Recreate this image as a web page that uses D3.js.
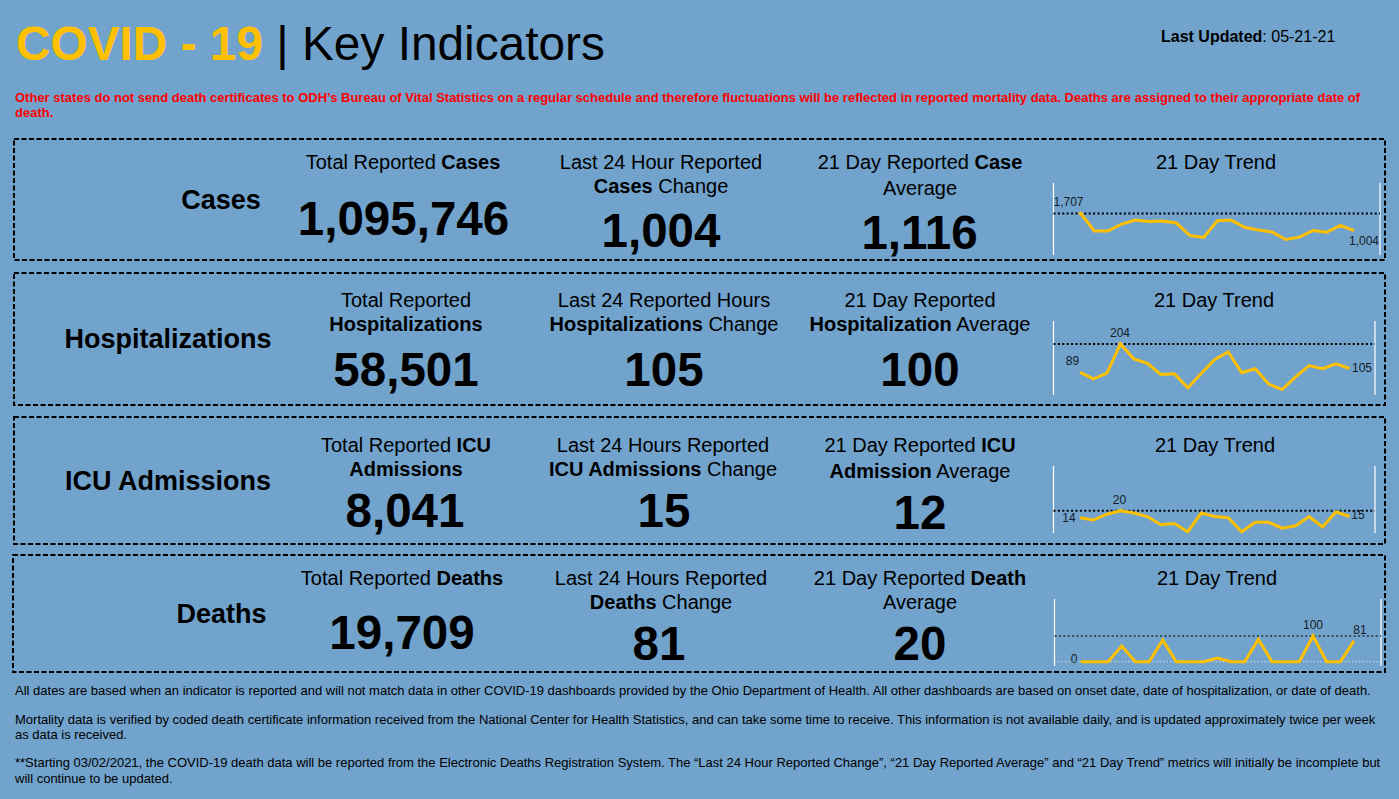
<!DOCTYPE html>
<html>
<head>
<meta charset="UTF-8">
<title>COVID - 19 | Key Indicators</title>
<script src="https://cdn.jsdelivr.net/npm/d3@7"></script>
<style>
* { margin: 0; padding: 0; }
html, body { background: #71a3cc; overflow: hidden; }
svg { display: block; font-family: "Liberation Sans", Arial, sans-serif; }
</style>
</head>
<body>
<svg id="chart" width="1399" height="799"></svg>
<script>
const rowNames = ["Cases", "Hospitalizations", "ICU Admissions", "Deaths"];
const totals = ["1,095,746", "58,501", "8,041", "19,709"];
const changes = ["1,004", "105", "15", "81"];
const averages = ["1,116", "100", "12", "20"];

const totalHeads = [
  ["Total Reported <b>Cases</b>"],
  ["Total Reported", "<b>Hospitalizations</b>"],
  ["Total Reported <b>ICU</b>", "<b>Admissions</b>"],
  ["Total Reported <b>Deaths</b>"]
];
const changeHeads = [
  ["Last 24 Hour Reported", "<b>Cases</b> Change"],
  ["Last 24 Reported Hours", "<b>Hospitalizations</b> Change"],
  ["Last 24 Hours Reported", "<b>ICU Admissions</b> Change"],
  ["Last 24 Hours Reported", "<b>Deaths</b> Change"]
];
const averageHeads = [
  ["21 Day Reported <b>Case</b>", "Average"],
  ["21 Day Reported", "<b>Hospitalization</b> Average"],
  ["21 Day Reported <b>ICU</b>", "<b>Admission</b> Average"],
  ["21 Day Reported <b>Death</b>", "Average"]
];

// 21 day trend values
const casesTrend = [1707, 990, 990, 1274, 1437, 1383, 1396, 1315, 801, 720, 1410, 1437, 1139, 1031, 950, 639, 733, 1004, 936, 1220, 1004];
const hospTrend = [89, 63, 86, 204, 144, 126, 81, 84, 27, 85, 142, 172, 88, 104, 42, 20, 71, 117, 104, 124, 105];
const icuTrend = [14, 12, 17, 20, 18, 15, 8, 9, 2, 18, 15, 14, 2, 10, 10, 5, 7, 15, 6, 19, 15];
const deathsTrend = [0, 0, 0, 61, 0, 0, 84, 0, 0, 0, 14, 0, 0, 87, 0, 0, 0, 100, 0, 0, 81];
const trends = [casesTrend, hospTrend, icuTrend, deathsTrend];

const noteRed = [
  "Other states do not send death certificates to ODH’s Bureau of Vital Statistics on a regular schedule and therefore fluctuations will be reflected in reported mortality data. Deaths are assigned to their appropriate date of",
  "death."
];
const footNotes = [
  "All dates are based when an indicator is reported and will not match data in other COVID-19 dashboards provided by the Ohio Department of Health. All other dashboards are based on onset date, date of hospitalization, or date of death.",
  "Mortality data is verified by coded death certificate information received from the National Center for Health Statistics, and can take some time to receive. This information is not available daily, and is updated approximately twice per week",
  "as data is received.",
  "**Starting 03/02/2021, the COVID-19 death data will be reported from the Electronic Deaths Registration System. The “Last 24 Hour Reported Change”, “21 Day Reported Average” and “21 Day Trend” metrics will initially be incomplete but",
  "will continue to be updated."
];
const footY = [695, 724, 739, 767, 783];

// layout of each row, pixels
const rows = [
  { box: [14, 139, 1385, 260], nameX: 221, nameY: 209, headY: [169, 193], avgHeadY: [169, 195], trendX: 1216,
    cols: [403, 661, 920], valX: [403.5, 661, 919.5], valY: [235, 247, 249],
    spark: { left: 1053.5, right: 1380, top: 183, bottom: 255, x0: 1080.7, x1: 1354, zero: 255, ref: 213.5 },
    labels: [{ t: "1,707", x: 1068.5, y: 206 }, { t: "1,004", x: 1364, y: 245 }] },
  { box: [14, 273, 1385, 405], nameX: 168, nameY: 348, headY: [307, 331], avgHeadY: [307, 331], trendX: 1214,
    cols: [406, 664, 920], valX: [406, 664, 920], valY: [386, 386, 386],
    spark: { left: 1053.5, right: 1375, top: 321, bottom: 395, x0: 1080, x1: 1349.5, zero: 394.5, ref: 344 },
    labels: [{ t: "204", x: 1120, y: 337 }, { t: "89", x: 1072.5, y: 365 }, { t: "105", x: 1362, y: 372 }] },
  { box: [14, 417, 1385, 544], nameX: 168, nameY: 490, headY: [452, 476], avgHeadY: [452, 478], trendX: 1215,
    cols: [406, 663, 920], valX: [405, 664, 920], valY: [527, 527, 529],
    spark: { left: 1053.5, right: 1375, top: 466, bottom: 533, x0: 1080, x1: 1349.5, zero: 534, ref: 510.7 },
    labels: [{ t: "20", x: 1119.5, y: 504 }, { t: "14", x: 1069, y: 522 }, { t: "15", x: 1358, y: 519 }] },
  { box: [13, 555, 1385, 672], nameX: 221.5, nameY: 623, headY: [585, 609], avgHeadY: [585, 609], trendX: 1217,
    cols: [402, 661, 920], valX: [402, 659, 920], valY: [649, 660, 660],
    spark: { left: 1054.5, right: 1381, top: 599, bottom: 666, x0: 1080.7, x1: 1354, zero: 661.7, ref: 636, grey: true },
    labels: [{ t: "100", x: 1313, y: 629 }, { t: "81", x: 1360, y: 634 }, { t: "0", x: 1074, y: 663 }] }
];

const svg = d3.select("#chart");
svg.append("rect").attr("width", 1399).attr("height", 799).attr("fill", "#71a3cc");

// text with <b> runs turned into tspans
function richText(parent, str, x, y, size, anchor) {
  const t = parent.append("text").attr("x", x).attr("y", y)
    .attr("font-size", size).attr("text-anchor", anchor || "middle").attr("fill", "#000");
  str.split(/(<b>.*?<\/b>)/).filter(s => s).forEach(s => {
    const bold = s.startsWith("<b>");
    t.append("tspan").attr("font-weight", bold ? "bold" : "normal").text(s.replace(/<\/?b>/g, ""));
  });
  return t;
}

// title
const title = svg.append("text").attr("x", 16).attr("y", 60).attr("font-size", 47.8);
title.append("tspan").attr("font-weight", "bold").attr("fill", "#ffc000").text("COVID - 19");
title.append("tspan").attr("fill", "#000").text(" | Key Indicators");

richText(svg, "<b>Last Updated</b>: 05-21-21", 1161, 42, 16, "start");

svg.selectAll(".note").data(noteRed).enter().append("text")
  .attr("class", "note").attr("x", 15).attr("y", (d, i) => 102 + i * 15)
  .attr("font-size", 13).attr("font-weight", "bold").attr("fill", "#ff0000").text(d => d);

rows.forEach((r, i) => {
  const g = svg.append("g");
  g.append("rect").attr("x", r.box[0]).attr("y", r.box[1])
    .attr("width", r.box[2] - r.box[0]).attr("height", r.box[3] - r.box[1])
    .attr("fill", "none").attr("stroke", "#000").attr("stroke-width", 2).attr("stroke-dasharray", "5,2.5");

  g.append("text").attr("x", r.nameX).attr("y", r.nameY).attr("text-anchor", "middle")
    .attr("font-size", 27).attr("font-weight", "bold").text(rowNames[i]);

  totalHeads[i].forEach((s, k) => richText(g, s, r.cols[0], r.headY[k], 20));
  changeHeads[i].forEach((s, k) => richText(g, s, r.cols[1], r.headY[k], 20));
  averageHeads[i].forEach((s, k) => richText(g, s, r.cols[2], r.avgHeadY[k], 20));
  richText(g, "21 Day Trend", r.trendX, r.headY[0], 20);

  [totals[i], changes[i], averages[i]].forEach((v, k) => {
    g.append("text").attr("x", r.valX[k]).attr("y", r.valY[k]).attr("text-anchor", "middle")
      .attr("font-size", 47.5).attr("font-weight", "bold").text(v);
  });

  // sparkline
  const s = r.spark, vals = trends[i];
  const x = d3.scaleLinear().domain([0, vals.length - 1]).range([s.x0, s.x1]);
  const y = d3.scaleLinear().domain([0, d3.max(vals)]).range([s.zero, s.ref]);

  [s.left, s.right].forEach(px => {
    g.append("line").attr("x1", px).attr("x2", px).attr("y1", s.top).attr("y2", s.bottom)
      .attr("stroke", "#fff").attr("stroke-width", 1.2);
  });

  if (s.grey) {
    g.append("line").attr("x1", s.left).attr("x2", s.right).attr("y1", y(0)).attr("y2", y(0))
      .attr("stroke", "#d5dfe8").attr("stroke-width", 1).attr("stroke-dasharray", "1.5,2");
  }
  g.append("line").attr("x1", s.left).attr("x2", s.right)
    .attr("y1", y(d3.max(vals))).attr("y2", y(d3.max(vals)))
    .attr("stroke", s.grey ? "#3a4f60" : "#000").attr("stroke-width", 2).attr("stroke-dasharray", "2,2.4");

  const line = d3.line().x((d, j) => x(j)).y(d => y(d));
  g.append("path").attr("d", line(vals)).attr("fill", "none")
    .attr("stroke", "#ffc000").attr("stroke-width", 3).attr("stroke-linejoin", "miter");

  // marker on the highest day
  const top = d3.max(vals);
  g.append("circle").attr("cx", x(vals.indexOf(top))).attr("cy", y(top)).attr("r", 2).attr("fill", "#ffc000");

  r.labels.forEach(l => {
    g.append("text").attr("x", l.x).attr("y", l.y).attr("text-anchor", "middle")
      .attr("font-size", 12).attr("fill", "#111c26").text(l.t);
  });
});

svg.selectAll(".foot").data(footNotes).enter().append("text")
  .attr("class", "foot").attr("x", 15).attr("y", (d, i) => footY[i])
  .attr("font-size", 13).attr("fill", "#000").text(d => d);
</script>
</body>
</html>
